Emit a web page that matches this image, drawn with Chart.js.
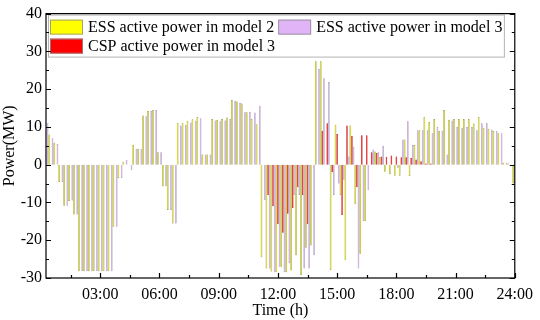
<!DOCTYPE html>
<html>
<head>
<meta charset="utf-8">
<script src="https://cdn.jsdelivr.net/npm/chart.js@4.4.1/dist/chart.umd.min.js"></script>
<style>
  html, body { margin: 0; padding: 0; background: #fff; }
  canvas { display: block; }
</style>
</head>
<body>
<canvas id="chart" width="540" height="320"></canvas>
<script>
// 15 min slots, 00:15 ... 24:00 (one row = 3 hours)
const essModel2 = [
  10, 8, 5.8, -4.6, -10.9, -9.6, -13.2, -28.2, -28.2, -28.2, -28.2, -28.2,
  -28.2, -28.2, -16.4, -3.5, 0.8, 0, 5.3, 4.2, 13, 14.2, 14.5, 3.3,
  -5.7, -12, -15.6, 11.1, 11.1, 11.6, 12, 12.6, 2.7, 2.7, 12.1, 11.9,
  12.1, 12.5, 17.1, 16.7, 16.2, 13.9, 12.1, 10.7, -24.5, -27.5, -28.3, -28.5,
  -27, -28.5, -28, -24, -29.2, -22, -21.4, 27.4, 27.4, 0, -27.9, 10.6,
  -8, -25.3, 10.4, -10.5, -23.6, -15, 0, 3.5, 2.1, -1.9, -2.5, -2.9,
  -2.9, 6.7, -3, 5.2, 9.1, 12.7, 11.3, 12.1, 9, 14.5, 11.9, 12.1,
  12.1, 12.1, 12.1, 10.9, 12.6, 9.8, 9.5, 8.9, 8.3, 0.5, 0.3, -5
];
const essModel3 = [
  11, 7, 5.5, -4.6, -10.9, -9.5, -13.2, -28.2, -28.2, -28.2, -28.2, -28.2,
  -28.2, -28.2, -16.4, -3.5, 1.3, -1.5, 4.2, 4.2, 12.8, 14.2, 14.5, 3.3,
  -5.7, -12, -15.6, 10.4, 10.6, 11.2, 11.6, 12.3, 2.7, 2.7, 11.7, 11.5,
  11.7, 12.1, 16.9, 16.3, 13.9, 14, 13.8, 15.6, -9.4, -27.5, -28.5, -27,
  -28.5, -26, -8, -8, -27.5, -27.5, -24, 25.3, 22.9, 21.9, -8, -5,
  -4, 2.2, 4.8, -27.5, -15, -6.8, 4, 3.3, 5, 0, 0, -0.8,
  6.7, 11.5, 5.2, 9.1, 9.1, 9.1, 8.3, 10, 9, 2.7, 11.7, 10,
  9.8, 10, 10, 9.1, 11, 11.1, 9.3, 8.9, 8.3, 0.5, 0, 0
];
const cspModel3 = [
  0, 0, 0, 0, 0, 0, 0, 0, 0, 0, 0, 0,
  0, 0, 0, 0, 0, 0, 0, 0, 0, 0, 0, 0,
  0, 0, 0, 0, 0, 0, 0, 0, 0, 0, 0, 0,
  0, 0, 0, 0, 0, 0, 0, 0, 0, -8, -11, -15.8,
  -18, -13, -11.5, -6, -8, -15.8, 0, 0, 9, 11, -2, 8.1,
  -13.3, 10.4, 7.6, -6, 7.8, 7.8, 3.3, 3.1, 2.2, 2.1, 2.4, 2.2,
  2, 2, 1.8, 1.4, 0.9, 0.3, 0.3, 0, 0, 0, 0, 0,
  0, 0, 0, 0, 0, 0, 0, 0, 0, 0, 0, 0
];
const tickLabels = ['03:00', '06:00', '09:00', '12:00', '15:00', '18:00', '21:00', '24:00'];
const slots = essModel2.map((_, i) => i + 1);

// legend: [datasetIndex, column, row, swatch colour]
const legendCells = [[0, 0, 0, '#ffff00'], [2, 1, 0, '#e0b4f6'], [1, 0, 1, '#ff0000']];

const FONT = '"Liberation Serif", "Times New Roman", serif';
Chart.defaults.font.family = FONT;
Chart.defaults.font.size = 16;
Chart.defaults.color = '#000';

const legendBox = {
    id: 'legendBox',
    afterDatasetsDraw(chart) {
        const {ctx, chartArea: a} = chart;
        const ds = chart.data.datasets;
        ctx.save();
        ctx.font = '16px ' + FONT;
        const col2 = a.left + 42 + ctx.measureText(ds[0].label).width + 4;
        const right = col2 + 38 + ctx.measureText(ds[2].label).width + 2;
        ctx.fillStyle = '#fff';
        ctx.fillRect(a.left + 2, a.top + 1, right - a.left - 2, 42);
        ctx.strokeStyle = '#b4b4b4';
        ctx.lineWidth = 1;
        ctx.strokeRect(a.left + 2.5, a.top + 1.5, right - a.left - 2.5, 42);
        ctx.textBaseline = 'middle';
        legendCells.forEach(([di, c, r, col]) => {
            const x = c === 0 ? a.left + 4 : col2;
            const yc = a.top + 13.5 + r * 19;
            ctx.fillStyle = col;
            ctx.fillRect(x, yc - 7.5, 33, 15);
            ctx.strokeStyle = '#8c8c8c';
            ctx.lineWidth = 0.8;
            ctx.strokeRect(x + 0.5, yc - 7, 32, 14);
            ctx.fillStyle = '#000';
            ctx.fillText(ds[di].label, x + 38, yc + 1);
        });
        ctx.restore();
    }
};

const frame = {
    id: 'frame',
    afterDraw(chart) {
        const {ctx, chartArea: a, scales: {x, y}} = chart;
        ctx.save();
        ctx.strokeStyle = '#000';
        ctx.lineWidth = 1.2;
        ctx.beginPath();
        for (let v = -30; v <= 40; v += 5) {
            const py = Math.round(y.getPixelForValue(v)) + 0.5;
            const len = v % 10 === 0 ? 5 : 3;
            ctx.moveTo(a.left, py); ctx.lineTo(a.left + len, py);
            ctx.moveTo(a.right, py); ctx.lineTo(a.right - len, py);
        }
        for (let i = 5; i < slots.length; i += 6) {
            const px = Math.round(x.getPixelForValue(i)) + 0.5;
            const len = (i + 1) % 12 === 0 ? 5 : 3;
            ctx.moveTo(px, a.bottom); ctx.lineTo(px, a.bottom - len);
        }
        ctx.stroke();
        ctx.strokeRect(a.left, a.top, a.right - a.left, a.bottom - a.top);
        ctx.restore();
    }
};

const bar = (label, data, fill, edge) => ({
    label, data,
    backgroundColor: fill, borderColor: edge, borderWidth: 0.5,
    barPercentage: 1, categoryPercentage: 0.98, clip: 0
});

new Chart(document.getElementById('chart'), {
    type: 'bar',
    data: {
        labels: slots,
        datasets: [
            bar('ESS active power in model 2', essModel2, '#e8e800', '#6e6e00'),
            bar('CSP active power in model 3', cspModel3, '#ff0000', '#a00000'),
            bar('ESS active power in model 3', essModel3, '#d2aaea', '#8878a0')
        ]
    },
    options: {
        responsive: false, animation: false, devicePixelRatio: 1,
        layout: { padding: { top: 7, right: 20, left: 0, bottom: 0 } },
        plugins: {
            tooltip: { enabled: false },
            legend: { display: false }
        },
        scales: {
            x: {
                type: 'category', offset: false,
                grid: { display: false, drawTicks: false },
                border: { display: false },
                ticks: {
                    autoSkip: false, maxRotation: 0, padding: 7,
                    callback: (v, i) => (i + 1) % 12 === 0 ? tickLabels[(i + 1) / 12 - 1] : ''
                },
                title: { display: true, text: 'Time (h)', padding: 0 },
                afterFit: s => { s.height = 42; }
            },
            y: {
                min: -30, max: 40,
                grid: { display: false, drawTicks: false },
                border: { display: false },
                ticks: { stepSize: 10, padding: 4 },
                title: { display: true, text: 'Power(MW)', padding: 0 },
                afterFit: s => { s.width = 46; }
            }
        }
    },
    plugins: [legendBox, frame]
});
</script>
</body>
</html>
